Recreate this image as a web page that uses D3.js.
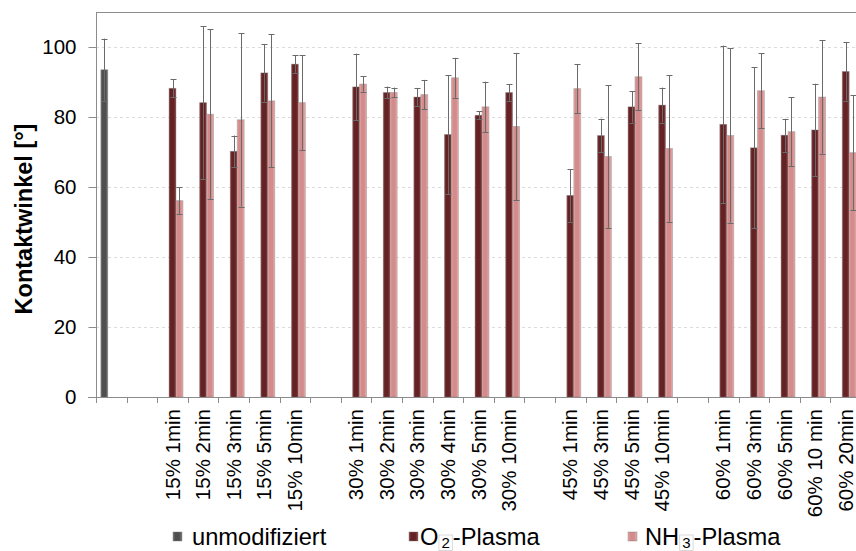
<!DOCTYPE html>
<html>
<head>
<meta charset="utf-8">
<script src="https://cdn.jsdelivr.net/npm/d3@7"></script>
<style>
  html, body { margin: 0; padding: 0; background: #fff; }
  svg { display: block; font-family: "Liberation Sans", Arial, sans-serif; }
</style>
</head>
<body>
<svg id="chart"></svg>
<script>
// categories ("" = empty gap slot on the axis)
let categories = ["", "",
    "15% 1min", "15% 2min", "15% 3min", "15% 5min", "15% 10min", "",
    "30% 1min", "30% 2min", "30% 3min", "30% 4min", "30% 5min", "30% 10min", "",
    "45% 1min", "45% 3min", "45% 5min", "45% 10min", "",
    "60% 1min", "60% 3min", "60% 5min", "60% 10 min", "60% 20min"];

let series = ["unmod", "o2", "nh3"];

// values (null = no bar)
let unmodValues = [93.5, null,
    null, null, null, null, null, null,
    null, null, null, null, null, null, null,
    null, null, null, null, null,
    null, null, null, null, null];
let unmodErrors = [8.9, null,
    null, null, null, null, null, null,
    null, null, null, null, null, null, null,
    null, null, null, null, null,
    null, null, null, null, null];

let o2Values = [null, null,
    88.2, 84.1, 70.2, 92.6, 95.1, null,
    88.6, 87.0, 85.7, 75.0, 80.5, 87.0, null,
    57.6, 74.7, 82.9, 83.4, null,
    77.9, 71.2, 74.8, 76.3, 93.0];
let o2Errors = [null, null,
    2.6, 21.8, 4.5, 8.2, 2.5, null,
    9.5, 1.7, 2.6, 17.0, 1.1, 2.4, null,
    7.5, 4.8, 4.5, 5.0, null,
    22.5, 23.0, 4.7, 13.2, 8.3];

let nh3Values = [null, null,
    56.1, 80.8, 79.2, 84.6, 84.1, null,
    89.4, 87.0, 86.4, 91.2, 82.9, 77.3, null,
    88.1, 68.7, 91.5, 71.0, null,
    74.7, 87.5, 75.8, 85.7, 69.8];
let nh3Errors = [null, null,
    3.8, 24.2, 24.8, 19.0, 13.6, null,
    2.2, 1.4, 4.2, 5.7, 7.2, 21.0, null,
    7.0, 20.4, 9.6, 20.9, null,
    24.9, 10.7, 9.8, 16.2, 16.4];

let yTicks = [0, 20, 40, 60, 80, 100];

let legendLabels = [
    {key: "unmod", main: "unmodifiziert", sub: "", rest: ""},
    {key: "o2", main: "O", sub: "2", rest: "-Plasma"},
    {key: "nh3", main: "NH", sub: "3", rest: "-Plasma"}
];

let width = 856;
let height = 551;
let plot = {left: 96, right: 861, top: 12, bottom: 397};

let colors = {
    unmod: {mid: "#4f4f4f", edge: "#7a7a7a"},
    o2: {mid: "#652224", edge: "#8c4a4b"},
    nh3: {mid: "#d48b8b", edge: "#eab4b3"}
};

let svg = d3.select("#chart")
    .attr("width", width)
    .attr("height", height);

let xScale = d3.scaleBand()
    .domain(d3.range(categories.length))
    .range([plot.left, plot.right])
    .padding(0);

let inner = d3.scaleBand()
    .domain(series)
    .range([0, xScale.bandwidth()])
    .paddingInner(0)
    .paddingOuter(0.69);

let yScale = d3.scaleLinear()
    .domain([0, 110])
    .range([plot.bottom, plot.top]);

// gradients for the bevelled bar look
let defs = svg.append("defs");
series.forEach((s) => {
    let g = defs.append("linearGradient")
        .attr("id", "grad-" + s)
        .attr("x1", "0").attr("x2", "1")
        .attr("y1", "0").attr("y2", "0");
    g.append("stop").attr("offset", "0%").attr("stop-color", colors[s].edge);
    g.append("stop").attr("offset", "22%").attr("stop-color", colors[s].mid);
    g.append("stop").attr("offset", "70%").attr("stop-color", colors[s].mid);
    g.append("stop").attr("offset", "100%").attr("stop-color", colors[s].edge);
});

// gridlines
svg.append("g")
    .selectAll("line")
    .data(yTicks.filter((d) => d > 0))
    .enter()
    .append("line")
    .attr("x1", plot.left)
    .attr("x2", width)
    .attr("y1", (d) => yScale(d) + 0.5)
    .attr("y2", (d) => yScale(d) + 0.5)
    .attr("stroke", "#dcdcdc")
    .attr("stroke-dasharray", "3,3");

// top border of the plot area
svg.append("line")
    .attr("x1", plot.left)
    .attr("x2", width)
    .attr("y1", plot.top + 0.5)
    .attr("y2", plot.top + 0.5)
    .attr("stroke", "#8c8c8c");

// bars
let rows = [];
categories.forEach((c, i) => {
    if (unmodValues[i] != null) rows.push({i: i, s: "unmod", v: unmodValues[i], e: unmodErrors[i]});
    if (o2Values[i] != null) rows.push({i: i, s: "o2", v: o2Values[i], e: o2Errors[i]});
    if (nh3Values[i] != null) rows.push({i: i, s: "nh3", v: nh3Values[i], e: nh3Errors[i]});
});

svg.append("g")
    .selectAll("rect")
    .data(rows)
    .enter()
    .append("rect")
    .attr("x", (d) => xScale(d.i) + inner(d.s))
    .attr("y", (d) => yScale(d.v))
    .attr("width", inner.bandwidth())
    .attr("height", (d) => yScale(0) - yScale(d.v))
    .attr("fill", (d) => "url(#grad-" + d.s + ")")
    .attr("stroke", "rgba(120,120,120,0.45)")
    .attr("stroke-width", 0.8);

// error bars
let errG = svg.append("g")
    .attr("stroke", "#6a6a6a")
    .attr("stroke-width", 1);

let cx = (d) => xScale(d.i) + inner(d.s) + inner.bandwidth() / 2;

errG.selectAll(".stem")
    .data(rows)
    .enter()
    .append("line")
    .attr("class", "stem")
    .attr("x1", (d) => Math.round(cx(d)) + 0.5)
    .attr("x2", (d) => Math.round(cx(d)) + 0.5)
    .attr("y1", (d) => yScale(d.v + d.e))
    .attr("y2", (d) => yScale(d.v - d.e));

errG.selectAll(".cap")
    .data(rows.flatMap((d) => [{d: d, y: d.v + d.e}, {d: d, y: d.v - d.e}]))
    .enter()
    .append("line")
    .attr("class", "cap")
    .attr("x1", (c) => Math.round(cx(c.d)) - 2.5)
    .attr("x2", (c) => Math.round(cx(c.d)) + 3.5)
    .attr("y1", (c) => Math.round(yScale(c.y)) + 0.5)
    .attr("y2", (c) => Math.round(yScale(c.y)) + 0.5);

// y axis
let yAxis = d3.axisLeft(yScale)
    .tickValues(yTicks)
    .tickSize(8)
    .tickPadding(12);

let yG = svg.append("g")
    .attr("transform", "translate(" + (plot.left + 0.5) + ",0)")
    .call(yAxis);
yG.select(".domain").attr("stroke", "#8c8c8c").attr("d", "M0," + plot.top + "V" + plot.bottom);
yG.selectAll(".tick line").attr("stroke", "#8c8c8c");
yG.selectAll(".tick text")
    .attr("fill", "#000")
    .style("font-size", "20.5px")
    .style("font-family", "'Liberation Sans', Arial, sans-serif");

// x axis: ticks at category boundaries
let xG = svg.append("g");
xG.append("line")
    .attr("x1", plot.left - 8)
    .attr("x2", width)
    .attr("y1", plot.bottom + 0.5)
    .attr("y2", plot.bottom + 0.5)
    .attr("stroke", "#8c8c8c");

xG.selectAll(".xt")
    .data(d3.range(categories.length))
    .enter()
    .append("line")
    .attr("class", "xt")
    .attr("x1", (i) => Math.round(xScale(i)) + 0.5)
    .attr("x2", (i) => Math.round(xScale(i)) + 0.5)
    .attr("y1", plot.bottom)
    .attr("y2", plot.bottom + 6)
    .attr("stroke", "#8c8c8c");

xG.selectAll(".xl")
    .data(d3.range(categories.length).filter((i) => categories[i] !== ""))
    .enter()
    .append("text")
    .attr("class", "xl")
    .attr("transform", (i) => "translate(" + (xScale(i) + xScale.bandwidth() / 2 + 7) + "," + (plot.bottom + 12) + ")rotate(-90)")
    .style("text-anchor", "end")
    .style("font-size", "20.5px")
    .attr("fill", "#000")
    .text((i) => categories[i]);

// y axis title
svg.append("text")
    .attr("transform", "translate(32," + 219 + ")rotate(-90)")
    .style("text-anchor", "middle")
    .style("font-size", "23.5px")
    .style("font-weight", "bold")
    .attr("fill", "#000")
    .text("Kontaktwinkel [°]");

// legend
let legendX = [{sq: 173, tx: 192}, {sq: 409, tx: 420}, {sq: 628, tx: 645}];
let legend = svg.append("g");
legendLabels.forEach((l, k) => {
    legend.append("rect")
        .attr("x", legendX[k].sq)
        .attr("y", 532)
        .attr("width", 9)
        .attr("height", 9)
        .attr("fill", "url(#grad-" + l.key + ")")
        .attr("stroke", "rgba(120,120,120,0.5)")
        .attr("stroke-width", 0.8);
    let t = legend.append("text")
        .attr("x", legendX[k].tx)
        .attr("y", 545)
        .style("font-size", "23.7px")
        .attr("fill", "#000");
    t.append("tspan").text(l.main);
    if (l.sub) {
        let sub = t.append("tspan")
            .attr("dx", 3)
            .attr("dy", 3)
            .style("font-size", "15px")
            .text(l.sub);
        t.append("tspan")
            .attr("dx", 3)
            .attr("dy", -3)
            .text(l.rest);
        // thin frame around the subscript, as in the source figure
        let bb = sub.node().getBBox();
        legend.append("rect")
            .attr("x", bb.x - 2.5)
            .attr("y", bb.y + 1)
            .attr("width", bb.width + 5)
            .attr("height", Math.min(bb.height, height - bb.y - 1.5))
            .attr("fill", "none")
            .attr("stroke", "#cfcfcf")
            .attr("stroke-width", 0.8);
    }
});
</script>
</body>
</html>
